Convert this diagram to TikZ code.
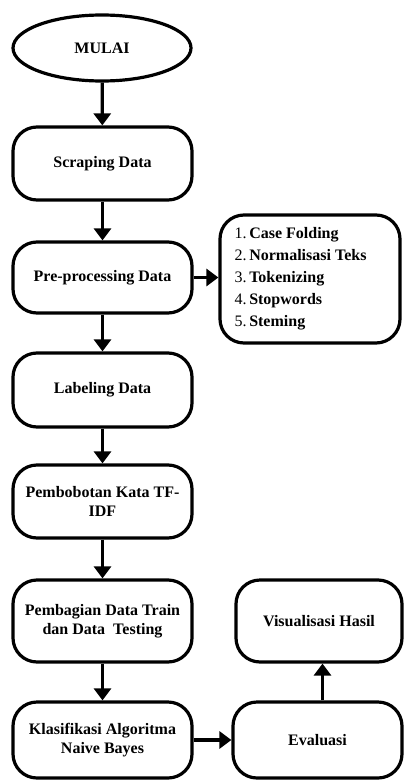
\documentclass[tikz,border=0pt]{standalone}
\usepackage{fontspec}
\setmainfont{Liberation Serif}
\usetikzlibrary{shapes.geometric,arrows.meta}
\begin{document}
\begin{tikzpicture}[x=1pt,y=-1pt,
  lw/.style={line width=3.2pt},
  txt/.style={font=\fontsize{16}{19}\selectfont\bfseries},
  box/.style={draw,lw,rounded corners=24pt,minimum width=179pt,align=center,txt,inner sep=0pt},
  arr/.style={lw,-{Triangle[length=12pt,width=17pt]}}]
\useasboundingbox (0,0) rectangle (404,781);
\node[draw,lw,ellipse,minimum width=178pt,minimum height=66pt,txt,inner sep=0pt] (start) at (102,48) {MULAI};
\node[box,minimum height=73pt] (scrap) at (102.5,163.5) {Scraping Data};
\node[box,minimum height=71pt] (pre) at (102.5,277.5) {Pre-processing Data};
\node[box,minimum height=74pt] (label) at (102.5,390) {Labeling Data};
\node[box,minimum height=73pt] (bobot) at (102.5,501.5) {Pembobotan Kata TF-\\IDF};
\node[box,minimum height=82pt] (bagi) at (102.5,621) {Pembagian Data Train\\dan Data\ \ Testing};
\node[box,minimum height=76pt] (klas) at (102.5,740) {Klasifikasi Algoritma\\Naive Bayes};
\node[box,minimum width=169pt,minimum height=76pt] (eval) at (317.5,740) {Evaluasi};
\node[box,minimum width=166pt,minimum height=82pt] (vis) at (319,621) {Visualisasi Hasil};
\node[draw,lw,rounded corners=24pt,minimum width=180pt,minimum height=128pt,inner sep=0pt] (list) at (310,279) {};
\node[anchor=west,align=left,font=\fontsize{16}{22}\selectfont,inner sep=0pt] (listtext) at ([xshift=16pt]list.west)
  {1.\,\textbf{Case Folding}\\2.\,\textbf{Normalisasi Teks}\\3.\,\textbf{Tokenizing}\\4.\,\textbf{Stopwords}\\5.\,\textbf{Steming}};
\draw[arr] (start) -- (scrap);
\draw[arr] (scrap) -- (pre);
\draw[arr] (pre) -- (label);
\draw[arr] (label) -- (bobot);
\draw[arr] (bobot) -- (bagi);
\draw[arr] (bagi) -- (klas);
\draw[arr] (pre.east) -- (pre.east -| list.west);
\draw[arr] (klas) -- (eval);
\draw[arr] ([xshift=5pt]eval.north) -- ([xshift=5pt]eval.north |- vis.south);
\end{tikzpicture}
\end{document}
